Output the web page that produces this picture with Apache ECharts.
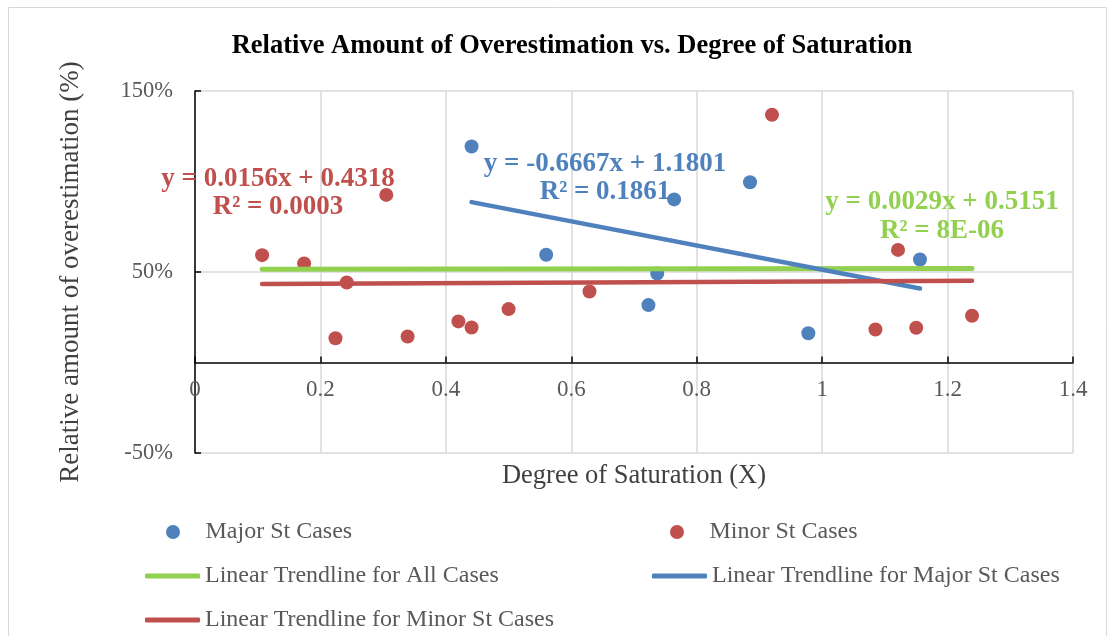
<!DOCTYPE html>
<html>
<head>
<meta charset="utf-8">
<script src="https://cdn.jsdelivr.net/npm/echarts/dist/echarts.min.js"></script>
<style>
  html, body { margin: 0; padding: 0; background: #fff; }
  #main { width: 1114px; height: 636px; }
</style>
</head>
<body>
<div id="main"></div>
<script>
// Major St Cases (blue points)
const majorX = [0.441, 0.560, 0.723, 0.737, 0.764, 0.885, 0.978, 1.156];
const majorY = [1.193, 0.595, 0.317, 0.492, 0.901, 0.996, 0.162, 0.569];

// Minor St Cases (red points)
const minorX = [0.107, 0.174, 0.224, 0.242, 0.305, 0.339, 0.420, 0.441, 0.500, 0.629, 0.920, 1.085, 1.121, 1.150, 1.239];
const minorY = [0.593, 0.547, 0.134, 0.442, 0.926, 0.144, 0.227, 0.193, 0.295, 0.392, 1.369, 0.182, 0.622, 0.192, 0.258];

// trendline end points
const allTrendX = [0.107, 1.239];
const allTrendY = [0.515, 0.519];
const majorTrendX = [0.441, 1.156];
const majorTrendY = [0.886, 0.409];
const minorTrendX = [0.107, 1.239];
const minorTrendY = [0.434, 0.451];

// tick labels
const yTickLabels = ['-50%', '50%', '150%'];

const pairs = (xs, ys) => xs.map((x, i) => [x, ys[i]]);

const BLUE = '#4f81bd';
const RED = '#c0504d';
const GREEN = '#92d050';
const FONT = '"Liberation Serif", "Times New Roman", serif';

const chart = echarts.init(document.getElementById('main'));

const eqText = (x, y, text, color) => ({
  type: 'text',
  x: x,
  y: y,
  z: 100,
  style: {
    text: text,
    fill: color,
    font: 'bold 27px ' + FONT,
    textAlign: 'center',
    textVerticalAlign: 'middle'
  }
});

const legendItem = (name, left, top, icon) => ({
  data: [{ name: name, icon: icon }],
  left: left,
  top: top,
  padding: 0,
  itemWidth: 55,
  itemHeight: icon === 'circle' ? 14 : 5,
  itemGap: 0,
  textStyle: { fontFamily: FONT, fontSize: 24, color: '#595959' }
});

chart.setOption({
  animation: false,
  title: {
    text: 'Relative Amount of Overestimation vs. Degree of Saturation',
    left: 567,
    top: 28,
    textAlign: 'center',
    textStyle: { fontFamily: FONT, fontSize: 26.5, fontWeight: 'bold', color: '#000' }
  },
  grid: { left: 195, right: 41, top: 91, bottom: 183 },
  xAxis: {
    type: 'value',
    min: 0,
    max: 1.4,
    interval: 0.2,
    name: 'Degree of Saturation (X)',
    nameLocation: 'middle',
    nameGap: 10,
    nameTextStyle: { fontFamily: FONT, fontSize: 26.5, color: '#404040' },
    axisLine: { onZero: true, onZeroAxisIndex: 0, lineStyle: { color: '#000', width: 1.5 } },
    axisTick: { show: true, inside: true, length: 6, lineStyle: { color: '#000', width: 1.5 } },
    axisLabel: { fontFamily: FONT, fontSize: 23, color: '#595959', margin: -75 },
    splitLine: { show: true, lineStyle: { color: '#d9d9d9', width: 1.5 } }
  },
  yAxis: [
    {
      // data axis
      type: 'value',
      min: -0.5,
      max: 1.5,
      show: false,
      position: 'left'
    },
    {
      // display axis (ticks at -50%, 50%, 150%)
      type: 'value',
      min: 0,
      max: 2,
      interval: 1,
      position: 'left',
      name: 'Relative amount of overestimation (%)',
      nameLocation: 'middle',
      nameGap: 111,
      nameTextStyle: { fontFamily: FONT, fontSize: 27, color: '#404040' },
      axisLine: { show: true, lineStyle: { color: '#000', width: 1.5 } },
      axisTick: { show: true, inside: true, length: 6, lineStyle: { color: '#000', width: 1.5 } },
      axisLabel: {
        fontFamily: FONT, fontSize: 22.5, color: '#595959', margin: 22,
        formatter: (v, i) => yTickLabels[i]
      },
      splitLine: { show: true, lineStyle: { color: '#d9d9d9', width: 1.5 } }
    }
  ],
  legend: [
    legendItem('Major St Cases', 166, 520, 'circle'),
    legendItem('Minor St Cases', 670, 520, 'circle'),
    legendItem('Linear Trendline for All Cases', 145, 564, 'roundRect'),
    legendItem('Linear Trendline for Major St Cases', 652, 564, 'roundRect'),
    legendItem('Linear Trendline for Minor St Cases', 145, 608, 'roundRect')
  ],
  series: [
    {
      name: 'Major St Cases',
      type: 'scatter',
      yAxisIndex: 0,
      symbol: 'circle',
      symbolSize: 14,
      itemStyle: { color: BLUE, opacity: 1 },
      data: pairs(majorX, majorY)
    },
    {
      name: 'Minor St Cases',
      type: 'scatter',
      yAxisIndex: 0,
      symbol: 'circle',
      symbolSize: 14,
      itemStyle: { color: RED, opacity: 1 },
      data: pairs(minorX, minorY)
    },
    {
      name: 'Linear Trendline for All Cases',
      type: 'line',
      yAxisIndex: 0,
      symbol: 'none',
      lineStyle: { color: GREEN, width: 5, cap: 'round' },
      itemStyle: { color: GREEN },
      data: pairs(allTrendX, allTrendY)
    },
    {
      name: 'Linear Trendline for Major St Cases',
      type: 'line',
      yAxisIndex: 0,
      symbol: 'none',
      lineStyle: { color: BLUE, width: 4.5, cap: 'round' },
      itemStyle: { color: BLUE },
      data: pairs(majorTrendX, majorTrendY)
    },
    {
      name: 'Linear Trendline for Minor St Cases',
      type: 'line',
      yAxisIndex: 0,
      symbol: 'none',
      lineStyle: { color: RED, width: 4.5, cap: 'round' },
      itemStyle: { color: RED },
      data: pairs(minorTrendX, minorTrendY)
    }
  ],
  graphic: [
    {
      type: 'rect',
      shape: { x: 8.5, y: 7.5, width: 1098, height: 640 },
      style: { fill: 'none', stroke: '#d9d9d9', lineWidth: 1 },
      silent: true
    },
    eqText(278, 179, 'y = 0.0156x + 0.4318', RED),
    eqText(278, 207, 'R² = 0.0003', RED),
    eqText(605, 164, 'y = -0.6667x + 1.1801', BLUE),
    eqText(605, 192, 'R² = 0.1861', BLUE),
    eqText(942, 202, 'y = 0.0029x + 0.5151', GREEN),
    eqText(942, 231, 'R² = 8E-06', GREEN)
  ]
});
</script>
</body>
</html>
